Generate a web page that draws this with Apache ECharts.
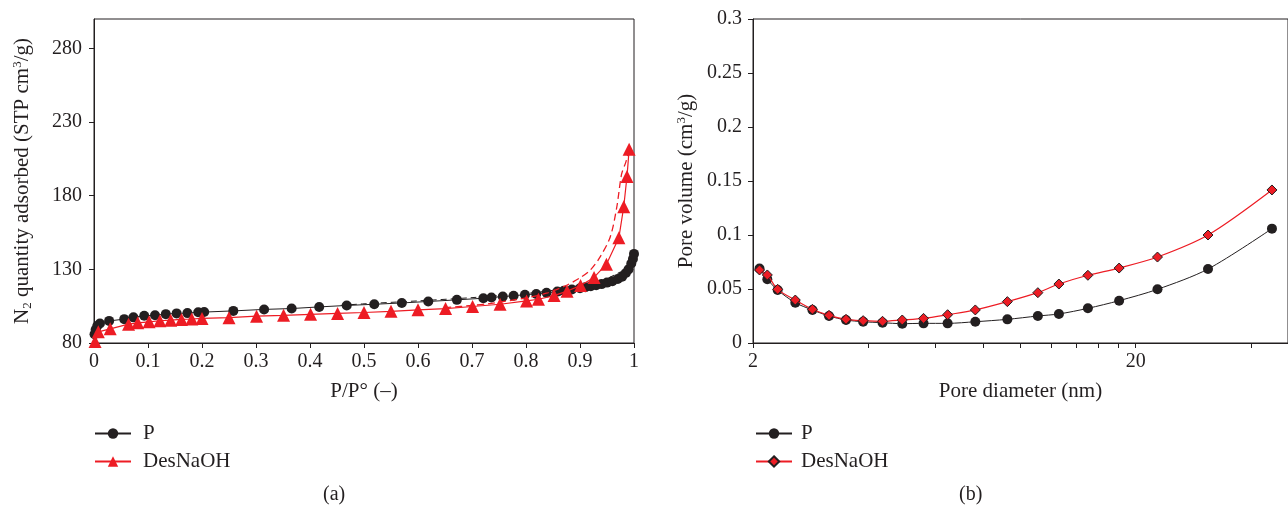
<!DOCTYPE html>
<html>
<head>
<meta charset="utf-8">
<script src="https://cdn.jsdelivr.net/npm/echarts@6/dist/echarts.min.js"></script>
<style>
  html, body { margin: 0; padding: 0; background: #fff; }
  #chart { width: 1288px; height: 508px; }
</style>
</head>
<body>
<div id="chart"></div>
<script>
// (a) N2 isotherms: [P/P0, quantity adsorbed]
const pAdsorption = [
  [0.001, 86], [0.003, 89], [0.006, 91.5], [0.011, 93.3], [0.028, 95], [0.056, 96.2],
  [0.073, 97.4], [0.093, 98.5], [0.113, 98.9], [0.133, 99.6], [0.153, 100.1], [0.173, 100.3],
  [0.193, 100.9], [0.204, 101], [0.258, 101.8], [0.315, 102.8], [0.366, 103.4], [0.417, 104.5],
  [0.468, 105.5], [0.519, 106.3], [0.570, 107.2], [0.619, 108.2], [0.672, 109.3], [0.721, 110.4],
  [0.736, 110.9], [0.757, 111.5], [0.777, 112.1], [0.798, 112.8], [0.819, 113.3], [0.838, 114.1],
  [0.858, 114.9], [0.87, 115.5], [0.885, 116.3], [0.9, 117.2], [0.91, 117.8], [0.92, 118.5],
  [0.93, 119.2], [0.94, 120], [0.95, 121], [0.96, 122], [0.97, 123.4], [0.978, 125],
  [0.985, 127.5], [0.99, 130], [0.995, 134], [0.998, 137], [1.0, 140.5]
];
const pDesorption = [
  [1.0, 140.5], [0.99, 134], [0.98, 129.5], [0.968, 127], [0.943, 122.6], [0.92, 120.5],
  [0.9, 119.2], [0.875, 117.3], [0.851, 115.8], [0.8, 113.6], [0.75, 112.2], [0.7, 110.8],
  [0.6, 108.6], [0.5, 106.6], [0.45, 105.4]
];
const desAdsorption = [
  [0.002, 81], [0.008, 87.6], [0.03, 89.6], [0.064, 92.8], [0.081, 93.7], [0.102, 94.4],
  [0.122, 95.1], [0.142, 95.5], [0.162, 96], [0.181, 96.3], [0.2, 96.7], [0.25, 97.2],
  [0.301, 98.2], [0.351, 98.8], [0.401, 99.5], [0.451, 100.1], [0.5, 100.7], [0.55, 101.5],
  [0.6, 102.5], [0.651, 103.4], [0.701, 104.8], [0.752, 106.3], [0.801, 108.6], [0.823, 109.7],
  [0.852, 112.2], [0.876, 115.2], [0.901, 119], [0.926, 124.5], [0.949, 133.5], [0.972, 151.5],
  [0.981, 172.5], [0.987, 193], [0.991, 211.5]
];
const desDesorption = [
  [0.991, 211.5], [0.985, 203], [0.977, 194.6], [0.968, 172], [0.956, 152], [0.937, 138.3],
  [0.919, 129.5], [0.9, 124.3], [0.875, 119.2], [0.838, 113.8], [0.795, 110.3], [0.733, 106.8],
  [0.7, 105.5], [0.65, 104]
];

// (b) pore size distribution
const poreDiameter = [2.08, 2.18, 2.32, 2.58, 2.86, 3.16, 3.50, 3.88, 4.36, 4.91, 5.58, 6.45,
  7.62, 9.24, 11.1, 12.6, 15.0, 18.1, 22.8, 30.9, 45.4];
const poreVolumeP = [0.069, 0.059, 0.049, 0.0373, 0.0306, 0.025, 0.0213, 0.0197, 0.0188, 0.0179,
  0.0182, 0.0182, 0.0197, 0.0219, 0.025, 0.0269, 0.0321, 0.0392, 0.0497, 0.0685, 0.1059];
const poreVolumeDes = [0.0676, 0.063, 0.0497, 0.0398, 0.0312, 0.0256, 0.0219, 0.0207, 0.0201,
  0.0213, 0.0228, 0.0262, 0.0306, 0.0383, 0.0466, 0.0546, 0.0627, 0.0694, 0.0796, 0.1, 0.1417];

const isoTicks = [80, 130, 180, 230, 280];
const diameterTicks = [2, 4, 6, 8, 10, 12, 14, 16, 18, 20, 40];
const diameterLabels = [2, 20];

const INK = '#231f20';
const RED = '#ed1c24';
const FONT = '"Liberation Serif", "DejaVu Serif", serif';
const TICK_SIZE = 20;
const TITLE_SIZE = 21;

const pairs = (xs, ys) => xs.map((x, i) => [x, ys[i]]);

const textBase = { color: INK, fontFamily: FONT };
const axisCommon = {
  axisLine: { show: true, onZero: false, lineStyle: { color: INK, width: 1 } },
  axisTick: { show: true, inside: false, length: 5, lineStyle: { color: INK } },
  splitLine: { show: false },
  nameTextStyle: Object.assign({ fontSize: TITLE_SIZE }, textBase)
};

const chart = echarts.init(document.getElementById('chart'), null, { renderer: 'canvas' });

chart.setOption({
  animation: false,
  backgroundColor: '#fff',
  textStyle: textBase,
  grid: [
    { left: 94, top: 19, right: 654, bottom: 165, show: true, borderColor: INK, borderWidth: 1 },
    { left: 753, top: 19, right: -7, bottom: 165, show: true, borderColor: INK, borderWidth: 1 }
  ],
  xAxis: [
    Object.assign({}, axisCommon, {
      gridIndex: 0, type: 'value', min: 0, max: 1, interval: 0.1,
      name: 'P/P° (–)', nameLocation: 'middle', nameGap: 38,
      axisLabel: Object.assign({ fontSize: TICK_SIZE, margin: 9,
        formatter: v => (v === 0 ? '0' : v === 1 ? '1' : v.toFixed(1)) }, textBase)
    }),
    Object.assign({}, axisCommon, {
      gridIndex: 1, type: 'log', logBase: 10, min: 2, max: 50,
      name: 'Pore diameter (nm)', nameLocation: 'middle', nameGap: 38,
      axisTick: { show: true, length: 5, customValues: diameterTicks, lineStyle: { color: INK } },
      axisLabel: Object.assign({ fontSize: TICK_SIZE, margin: 9, customValues: diameterLabels,
        formatter: v => String(Math.round(v)) }, textBase),
      minorTick: { show: false }
    })
  ],
  yAxis: [
    Object.assign({}, axisCommon, {
      gridIndex: 0, type: 'value', min: 80, max: 300, interval: 50,
      name: '{t|N}{sub|2}{t| quantity adsorbed (STP cm}{sup|3}{t|/g)}',
      nameLocation: 'middle', nameGap: 60,
      nameTextStyle: Object.assign({ fontSize: TITLE_SIZE, rich: {
        t: Object.assign({ fontSize: TITLE_SIZE }, textBase),
        sub: Object.assign({ fontSize: 13, padding: [10, 0, 0, 0] }, textBase),
        sup: Object.assign({ fontSize: 13, padding: [0, 0, 10, 0] }, textBase)
      } }, textBase),
      axisTick: { show: true, length: 5, customValues: isoTicks, lineStyle: { color: INK } },
      axisLabel: Object.assign({ fontSize: TICK_SIZE, margin: 12, customValues: isoTicks }, textBase)
    }),
    Object.assign({}, axisCommon, {
      gridIndex: 1, type: 'value', min: 0, max: 0.3, interval: 0.05,
      name: '{t|Pore volume (cm}{sup|3}{t|/g)}',
      nameLocation: 'middle', nameGap: 55,
      nameTextStyle: Object.assign({ fontSize: TITLE_SIZE, rich: {
        t: Object.assign({ fontSize: TITLE_SIZE }, textBase),
        sup: Object.assign({ fontSize: 13, padding: [0, 0, 10, 0] }, textBase)
      } }, textBase),
      axisLabel: Object.assign({ fontSize: TICK_SIZE, margin: 11 }, textBase)
    })
  ],
  legend: [
    {
      data: ['P', 'DesNaOH'], orient: 'vertical', left: 94, top: 423, padding: 0,
      itemWidth: 36, itemHeight: 13, itemGap: 7,
      textStyle: Object.assign({ fontSize: TITLE_SIZE, padding: [0, 0, 0, 7] }, textBase),
      selectedMode: false
    },
    {
      data: ['P|b', 'DesNaOH|b'], orient: 'vertical', left: 755, top: 423, padding: 0,
      itemWidth: 36, itemHeight: 13, itemGap: 7,
      formatter: n => n.split('|')[0],
      textStyle: Object.assign({ fontSize: TITLE_SIZE, padding: [0, 0, 0, 4] }, textBase),
      selectedMode: false
    }
  ],
  series: [
    {
      name: 'P', type: 'line', xAxisIndex: 0, yAxisIndex: 0, data: pAdsorption,
      symbol: 'circle', symbolSize: 10, itemStyle: { color: INK },
      lineStyle: { color: INK, width: 1 }, z: 3
    },
    {
      name: 'P desorption', type: 'line', xAxisIndex: 0, yAxisIndex: 0, data: pDesorption,
      symbol: 'none', smooth: 0.3, lineStyle: { color: INK, width: 1, type: [6, 4] }, z: 2
    },
    {
      name: 'DesNaOH', type: 'line', xAxisIndex: 0, yAxisIndex: 0, data: desAdsorption,
      symbol: 'triangle', symbolSize: 13, itemStyle: { color: RED },
      lineStyle: { color: RED, width: 1.2 }, z: 4
    },
    {
      name: 'DesNaOH desorption', type: 'line', xAxisIndex: 0, yAxisIndex: 0, data: desDesorption,
      symbol: 'none', smooth: 0.3, lineStyle: { color: RED, width: 1.3, type: [7, 4] }, z: 4
    },
    {
      name: 'P|b', type: 'line', xAxisIndex: 1, yAxisIndex: 1,
      data: pairs(poreDiameter, poreVolumeP), smooth: 0.3,
      symbol: 'circle', symbolSize: 10, itemStyle: { color: INK },
      lineStyle: { color: INK, width: 1 }, z: 3
    },
    {
      name: 'DesNaOH|b', type: 'line', xAxisIndex: 1, yAxisIndex: 1,
      data: pairs(poreDiameter, poreVolumeDes), smooth: 0.3,
      symbol: 'diamond', symbolSize: 10,
      itemStyle: { color: RED, borderColor: INK, borderWidth: 1 },
      lineStyle: { color: RED, width: 1.2 }, z: 4
    }
  ],
  graphic: [
    { type: 'text', left: 323, top: 485, style: { text: '(a)', fontSize: 20, fontFamily: FONT, fill: INK } },
    { type: 'text', left: 959, top: 485, style: { text: '(b)', fontSize: 20, fontFamily: FONT, fill: INK } }
  ]
});
</script>
</body>
</html>
